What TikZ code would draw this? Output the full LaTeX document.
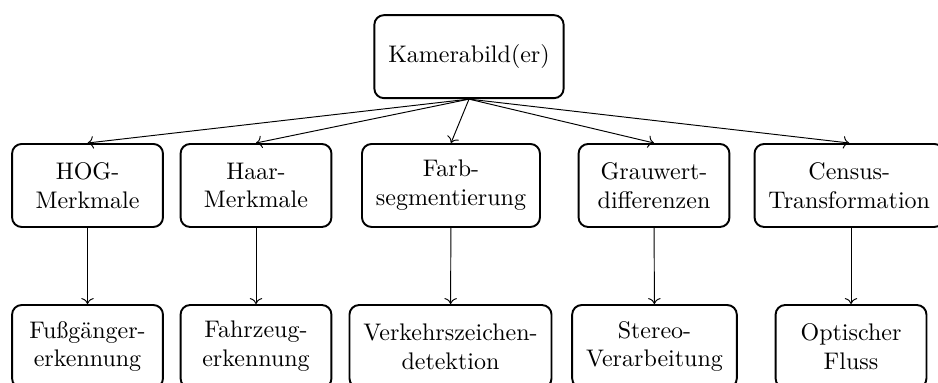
\documentclass[tikz,border=0pt]{standalone}
\usepackage{amsmath}
\usetikzlibrary{calc, positioning}
\usetikzlibrary{arrows.meta}

\tikzset{
  box/.style={draw, thick, rounded corners=4pt, align=center,
    minimum width=2.21cm, minimum height=1.216cm, inner xsep=5.8pt},
  pfeil/.style={->}
}

\begin{document}
\begin{tikzpicture}
\useasboundingbox (0,0) rectangle (13.74,-5.61);
\clip (0,0) rectangle (13.74,-5.61);

\def\ya{-0.83}
\def\yb{-2.717}
\def\yc{-5.076}

% Quelle
\node[box] (kamera) at (6.87,\ya) {Kamerabild(er)};

% Merkmale / Vorverarbeitung
\node[box] (hog) at (1.282,\yb) {HOG-\\Merkmale};
\node[box] (haar) at (3.750,\yb) {Haar-\\Merkmale};
\node[box] (farb) at (6.606,\yb) {Farb-\\segmentierung};
\node[box] (grau) at (9.580,\yb) {Grauwert-\\differenzen};
\node[box] (census) at (12.44,\yb) {Census-\\Transformation};

% Anwendungen
\node[box] (fuss) at (1.282,\yc) {Fußgänger-\\erkennung};
\node[box] (fahr) at (3.750,\yc) {Fahrzeug-\\erkennung};
\node[box] (verkehr) at (6.599,\yc) {Verkehrszeichen-\\detektion};
\node[box] (stereo) at (9.587,\yc) {Stereo-\\Verarbeitung};
\node[box] (fluss) at (12.466,\yc) {Optischer\\Fluss};

\foreach \n in {hog, haar, farb, grau, census}
  \draw[pfeil] (kamera.south) -- (\n.north);

\draw[pfeil] (hog) -- (fuss);
\draw[pfeil] (haar) -- (fahr);
\draw[pfeil] (farb) -- (verkehr);
\draw[pfeil] (grau) -- (stereo);
\draw[pfeil] (census.south -| fluss) -- (fluss);
\end{tikzpicture}
\end{document}
